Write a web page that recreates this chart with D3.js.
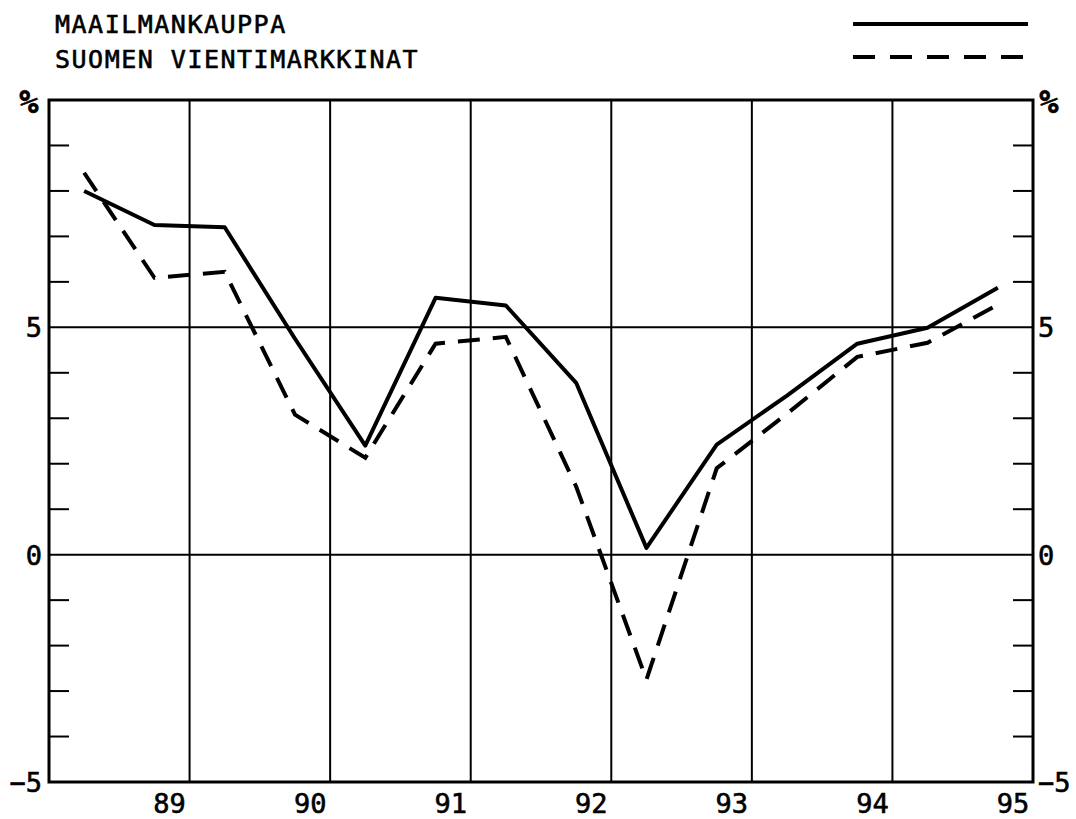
<!DOCTYPE html>
<html>
<head>
<meta charset="utf-8">
<script src="https://cdn.jsdelivr.net/npm/d3@7/dist/d3.min.js"></script>
<style>
  body { margin: 0; background: #fff; }
  text { font-family: "DejaVu Sans Mono", monospace; fill: #000; stroke: #000; stroke-width: 0.6px; }
</style>
</head>
<body>
<svg id="chart" width="1076" height="819"></svg>
<script>

// half-year positions (mid of each half), 1988 H1 .. 1994 H2
var halfYears = [1988.25, 1988.75, 1989.25, 1989.75, 1990.25, 1990.75, 1991.25,
                 1991.75, 1992.25, 1992.75, 1993.25, 1993.75, 1994.25, 1994.75];

var maailmankauppa  = [8.0, 7.25, 7.2, 4.75, 2.4, 5.65, 5.48, 3.78, 0.15, 2.42, 3.5, 4.64, 4.99, 5.87];
var vientimarkkinat = [8.4, 6.09, 6.22, 3.08, 2.13, 4.64, 4.79, 1.5, -2.75, 1.9, 3.1, 4.35, 4.66, 5.5];

var seriesNames = ["MAAILMANKAUPPA", "SUOMEN VIENTIMARKKINAT"];
var yearLabels = ["89", "90", "91", "92", "93", "94", "95"];
var yLabels = [-5, 0, 5];
var yGrid = [0, 5];

var svg = d3.select("#chart");

// plot box (window.top is reserved, so prefixed names)
var pLeft = 49, pRight = 1033, pTop = 100, pBottom = 782;

var x = d3.scaleLinear().domain([1988, 1995]).range([pLeft, pRight]);
var y = d3.scaleLinear().domain([-5, 10]).range([pBottom, pTop]);

// vertical year lines
svg.append("g").selectAll("line")
  .data(d3.range(1989, 1995))
  .enter().append("line")
  .attr("x1", function(d){ return x(d); })
  .attr("x2", function(d){ return x(d); })
  .attr("y1", pTop).attr("y2", pBottom)
  .attr("stroke", "#000").attr("stroke-width", 2);

// horizontal lines at 0 and 5
svg.append("g").selectAll("line")
  .data(yGrid)
  .enter().append("line")
  .attr("x1", pLeft).attr("x2", pRight)
  .attr("y1", function(d){ return y(d); })
  .attr("y2", function(d){ return y(d); })
  .attr("stroke", "#000").attr("stroke-width", 2);

// minor ticks, inside the frame on both sides
var minor = d3.range(-4, 10).filter(function(d){ return yGrid.indexOf(d) < 0; });
var tickG = svg.append("g");
tickG.selectAll("line.l").data(minor).enter().append("line")
  .attr("class", "l")
  .attr("x1", pLeft).attr("x2", pLeft + 20)
  .attr("y1", function(d){ return y(d); })
  .attr("y2", function(d){ return y(d); })
  .attr("stroke", "#000").attr("stroke-width", 2);
tickG.selectAll("line.r").data(minor).enter().append("line")
  .attr("class", "r")
  .attr("x1", pRight - 20).attr("x2", pRight)
  .attr("y1", function(d){ return y(d); })
  .attr("y2", function(d){ return y(d); })
  .attr("stroke", "#000").attr("stroke-width", 2);

// frame
svg.append("rect")
  .attr("x", pLeft).attr("y", pTop)
  .attr("width", pRight - pLeft).attr("height", pBottom - pTop)
  .attr("fill", "none").attr("stroke", "#000").attr("stroke-width", 3);

// series
var line = d3.line()
  .x(function(d, i){ return x(halfYears[i]); })
  .y(function(d){ return y(d); });

svg.append("path")
  .datum(maailmankauppa)
  .attr("d", line)
  .attr("fill", "none").attr("stroke", "#000")
  .attr("stroke-width", 4).attr("stroke-linejoin", "round");

svg.append("path")
  .datum(vientimarkkinat)
  .attr("d", line)
  .attr("fill", "none").attr("stroke", "#000")
  .attr("stroke-width", 4).attr("stroke-dasharray", "22,13");

// y labels, both sides
svg.append("g").selectAll("text")
  .data(yLabels)
  .enter().append("text")
  .attr("x", pLeft - 7)
  .attr("y", function(d){ return y(d) + 10; })
  .attr("text-anchor", "end")
  .attr("font-size", 27)
  .text(function(d){ return d < 0 ? "\u2212" + Math.abs(d) : d; });

svg.append("g").selectAll("text")
  .data(yLabels)
  .enter().append("text")
  .attr("x", pRight + 5)
  .attr("y", function(d){ return y(d) + 10; })
  .attr("text-anchor", "start")
  .attr("font-size", 27)
  .text(function(d){ return d < 0 ? "\u2212" + Math.abs(d) : d; });

svg.append("text").attr("x", 29).attr("y", pTop + 13)
  .attr("text-anchor", "middle").attr("font-size", 32).attr("font-weight", "bold").text("%");
svg.append("text").attr("x", pRight + 16).attr("y", pTop + 13)
  .attr("text-anchor", "middle").attr("font-size", 32).attr("font-weight", "bold").text("%");

// year labels, just left of each year line
svg.append("g").selectAll("text")
  .data(yearLabels)
  .enter().append("text")
  .attr("x", function(d, i){ return x(1989 + i) - 20; })
  .attr("y", pBottom + 31)
  .attr("text-anchor", "middle")
  .attr("font-size", 27)
  .text(function(d){ return d; });

// legend
var legend = svg.append("g");
legend.selectAll("text")
  .data(seriesNames)
  .enter().append("text")
  .attr("x", 55)
  .attr("y", function(d, i){ return 33 + i * 35; })
  .attr("font-size", 25)
  .attr("letter-spacing", 1.5)
  .text(function(d){ return d; });

legend.append("line")
  .attr("x1", 853).attr("x2", 1028).attr("y1", 24).attr("y2", 24)
  .attr("stroke", "#000").attr("stroke-width", 4);
legend.append("line")
  .attr("x1", 853).attr("x2", 1028).attr("y1", 57).attr("y2", 57)
  .attr("stroke", "#000").attr("stroke-width", 4).attr("stroke-dasharray", "22,15");

</script>
</body>
</html>
